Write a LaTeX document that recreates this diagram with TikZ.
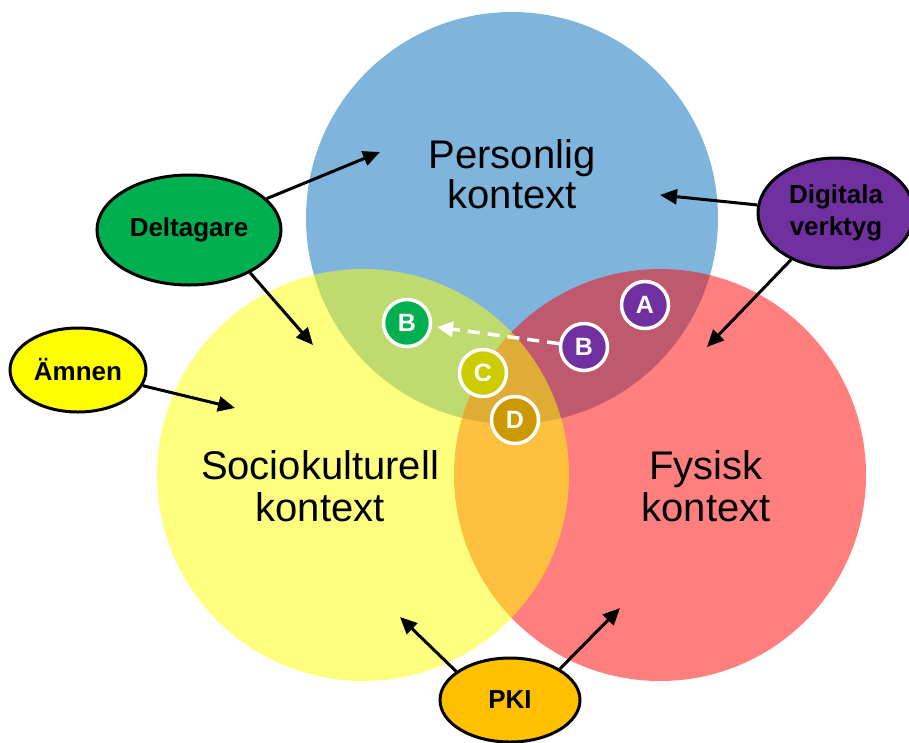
\documentclass[tikz,border=0pt]{standalone}
\usepackage{fontspec}
\setmainfont{Liberation Sans}
\usetikzlibrary{shapes.geometric,arrows.meta}

\definecolor{pblue}{HTML}{7FB5DD}
\definecolor{tgreen}{HTML}{00B050}
\definecolor{tyellow}{HTML}{FFFF00}
\definecolor{tpurple}{HTML}{7030A0}
\definecolor{torange}{HTML}{FFC000}
\definecolor{bolive}{HTML}{CCCC00}
\definecolor{bgold}{HTML}{CC9900}

\tikzset{
  venn/.style={circle, inner sep=0pt, minimum size=412pt},
  ctxlabel/.style={align=center, font=\fontsize{40}{42}\selectfont},
  tag/.style={ellipse, draw=black, line width=3pt, inner sep=0pt,
    font=\bfseries\fontsize{26}{32}\selectfont, align=center},
  link/.style={draw=black, line width=3pt,
    -{Triangle[length=17pt,width=15pt]}},
  badge/.style={circle, draw=white, line width=3.5pt, inner sep=0pt,
    minimum size=47pt, text=white, font=\bfseries\fontsize{25}{25}\selectfont},
  move/.style={draw=white, line width=3.5pt, dash pattern=on 12pt off 8pt,
    -{Triangle[length=16pt,width=15pt]}, shorten >=5pt}
}

\begin{document}
\begin{tikzpicture}[x=1pt, y=-1pt]
\useasboundingbox (0,0) rectangle (909,742);

% the three context circles
\node[venn, fill=pblue] (personal) at (512,218) {};
\node[venn, fill=red, fill opacity=0.5] (physical) at (660,475) {};
\node[venn, fill=tyellow, fill opacity=0.5] (social) at (363,475) {};

% circle titles
\node[ctxlabel, font=\fontsize{40}{40}\selectfont] (personaltxt) at (512,174) {Personlig\\kontext};
\node[ctxlabel] (socialtxt) at (320,486) {Sociokulturell\\kontext};
\node[ctxlabel] (physicaltxt) at (706,486) {Fysisk\\kontext};

% arrow targets inside the circles
\coordinate (tipPa) at (380,152);
\coordinate (tipSa) at (313,345);
\coordinate (tipSb) at (235,408);
\coordinate (tipPb) at (660,195);
\coordinate (tipFa) at (707,347);
\coordinate (tipSc) at (400,617);
\coordinate (tipFb) at (620,608);

% influencing factors
\node[tag, fill=tgreen, minimum width=184pt, minimum height=110pt] (deltagare) at (189,230) {Deltagare};
\node[tag, fill=tyellow, minimum width=136pt, minimum height=84pt] (amnen) at (78,370) {Ämnen};
\node[tag, fill=tpurple, minimum width=156pt, minimum height=110pt] (digitala) at (836,213) {Digitala\\verktyg};
\node[tag, fill=torange, minimum width=140pt, minimum height=84pt] (pki) at (510,700) {PKI};

\draw[link] (deltagare.22) -- (tipPa);
\draw[link] (deltagare.-35) -- (tipSa);
\draw[link] (amnen) -- (tipSb);
\draw[link] (digitala) -- (tipPb);
\draw[link] (digitala) -- (tipFa);
\draw[link] (pki.152) -- (tipSc);
\draw[link] (pki.32) -- (tipFb);

% positions in the overlaps
\node[badge, fill=tgreen] (b1) at (407,323) {B};
\node[badge, fill=tpurple] (b2) at (584,347) {B};
\node[badge, fill=tpurple] (a) at (645,305) {A};
\node[badge, fill=bolive] (c) at (483,373) {C};
\node[badge, fill=bgold] (d) at (515,420) {D};

\draw[move] (b2) -- (b1);
\end{tikzpicture}
\end{document}
